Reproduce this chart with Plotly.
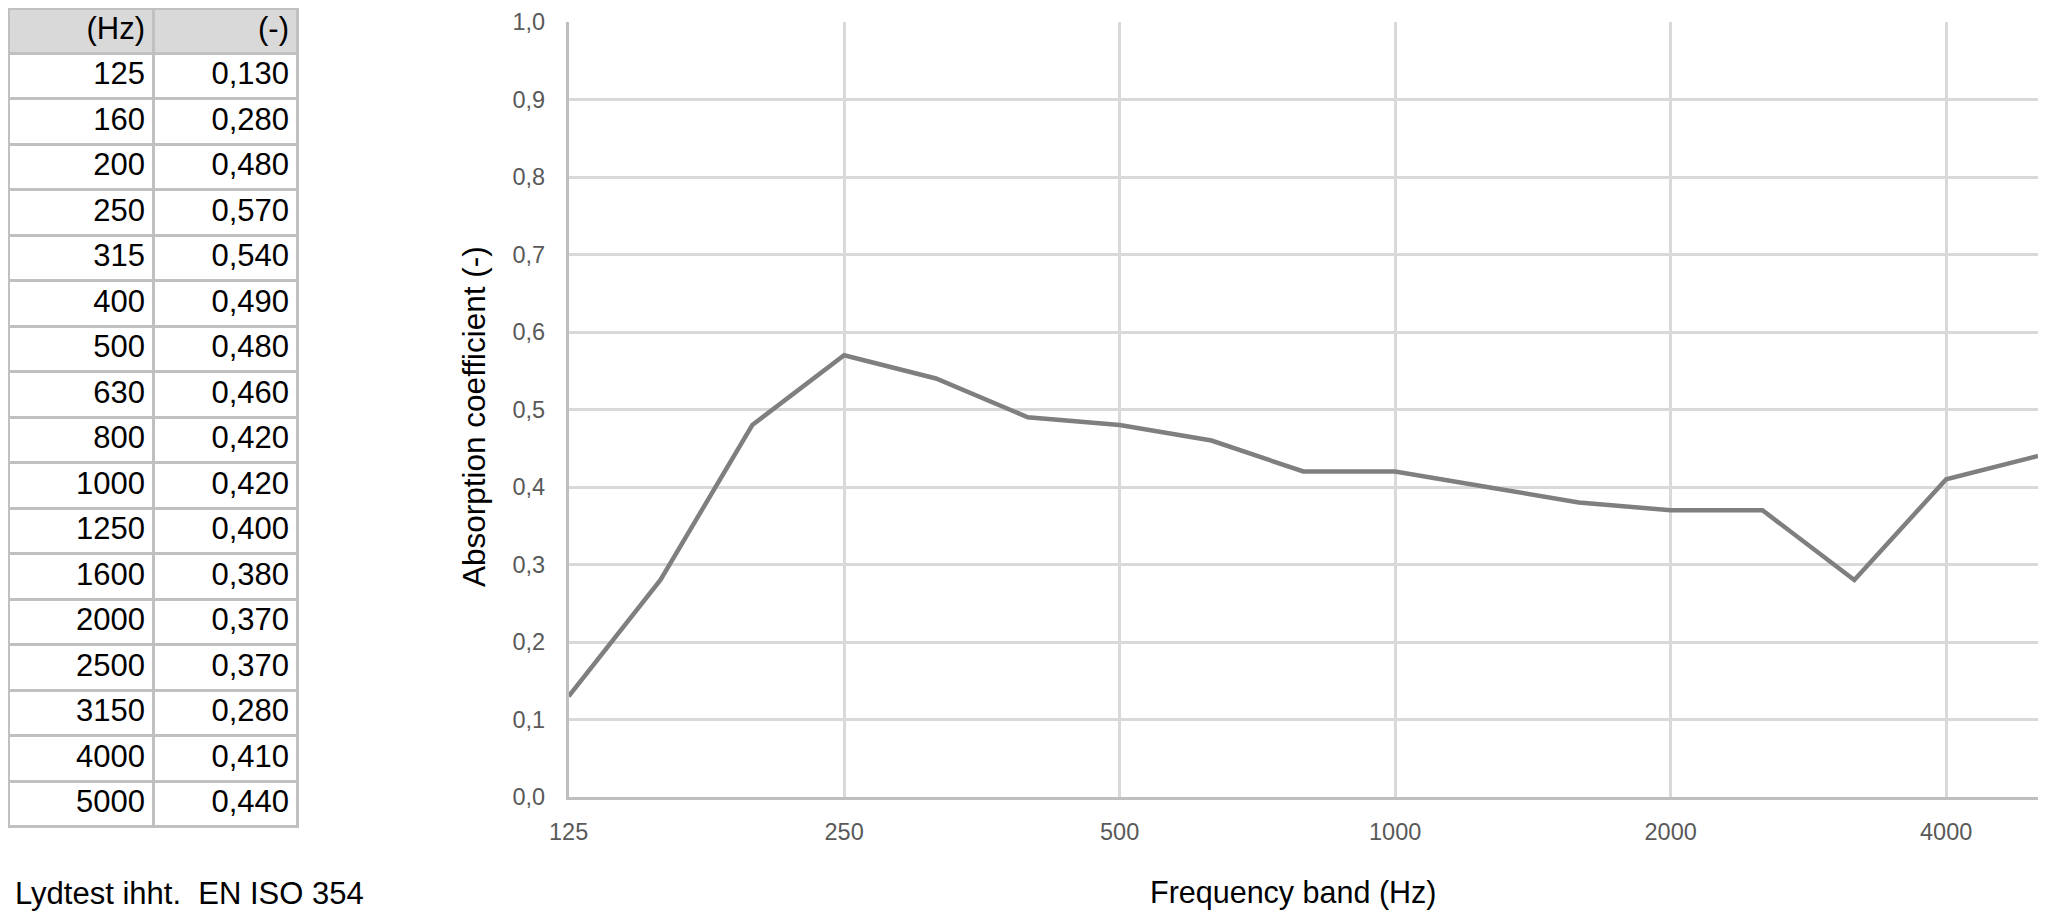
import plotly.graph_objects as go

# ---- data ----
freq_labels = ["125", "160", "200", "250", "315", "400", "500", "630", "800",
               "1000", "1250", "1600", "2000", "2500", "3150", "4000", "5000"]
absorption = [0.130, 0.280, 0.480, 0.570, 0.540, 0.490, 0.480, 0.460, 0.420,
              0.420, 0.400, 0.380, 0.370, 0.370, 0.280, 0.410, 0.440]
x_tick_labels = ["125", "250", "500", "1000", "2000", "4000"]
table_header = ["(Hz)", "(-)"]
y_title = "Absorption coefficient (-)"
x_title = "Frequency band (Hz)"
footer_text = "Lydtest ihht.\u00a0\u00a0EN ISO 354"

# The page body has a default 8px margin; compensate so the screenshot lines up.
OFF = 8
W, H = 2048 - OFF, 914 - OFF
FONT = "Liberation Sans, Arial, sans-serif"

def px(x):
    return min(1.0, max(0.0, (x - OFF) / W))

def py(y):
    return min(1.0, max(0.0, 1 - (y - OFF) / H))

value_text = [f"{v:.3f}".replace(".", ",") for v in absorption]

fig = go.Figure()

fig.add_trace(go.Table(
    domain=dict(x=[px(8), px(297)], y=[py(828), py(8)]),
    columnwidth=[145, 144],
    header=dict(
        values=table_header,
        fill_color="#d9d9d9",
        line=dict(color="#c0c0c0", width=3),
        align="right",
        font=dict(family=FONT, size=31, color="#000000"),
        height=45,
    ),
    cells=dict(
        values=[freq_labels, value_text],
        fill_color="#ffffff",
        line=dict(color="#c0c0c0", width=3),
        align="right",
        font=dict(family=FONT, size=31, color="#000000"),
        height=45.5,
    ),
))

fig.add_trace(go.Scatter(
    x=freq_labels,
    y=absorption,
    mode="lines",
    line=dict(color="#7f7f7f", width=4.5),
    hoverinfo="x+y",
    showlegend=False,
))

fig.update_layout(
    width=W,
    height=H,
    margin=dict(l=0, r=0, t=0, b=0),
    paper_bgcolor="#ffffff",
    plot_bgcolor="#ffffff",
    separators=",.",
    showlegend=False,
    xaxis=dict(
        domain=[px(568.6), px(2038)],
        type="category",
        categoryorder="array",
        categoryarray=freq_labels,
        range=[0, 16],
        tickmode="array",
        tickvals=x_tick_labels,
        ticktext=x_tick_labels,
        showgrid=True,
        gridcolor="#d9d9d9",
        gridwidth=2.5,
        showline=True,
        linecolor="#bfbfbf",
        linewidth=2.5,
        ticks="outside",
        ticklen=12,
        tickcolor="rgba(0,0,0,0)",
        tickfont=dict(family=FONT, size=23.5, color="#595959"),
        zeroline=False,
        automargin=False,
    ),
    yaxis=dict(
        domain=[py(797), py(22)],
        range=[0, 1.0],
        tickmode="array",
        tickvals=[i / 10 for i in range(11)],
        tickformat=".1f",
        showgrid=True,
        gridcolor="#d9d9d9",
        gridwidth=2.5,
        showline=True,
        linecolor="#bfbfbf",
        linewidth=2.5,
        ticks="outside",
        ticklen=16,
        tickcolor="rgba(0,0,0,0)",
        tickfont=dict(family=FONT, size=23.5, color="#595959"),
        zeroline=False,
        automargin=False,
    ),
    annotations=[
        dict(text=y_title, x=px(474), y=py(417), xref="paper", yref="paper",
             textangle=-90, showarrow=False, xanchor="center", yanchor="middle",
             font=dict(family=FONT, size=31.5, color="#000000")),
        dict(text=x_title, x=px(1293), y=py(892), xref="paper", yref="paper",
             showarrow=False, xanchor="center", yanchor="middle",
             font=dict(family=FONT, size=30.5, color="#000000")),
        dict(text=footer_text, x=px(13), y=py(893), xref="paper", yref="paper",
             showarrow=False, xanchor="left", yanchor="middle",
             font=dict(family=FONT, size=31, color="#000000")),
    ],
)

fig.write_html("out.html")
